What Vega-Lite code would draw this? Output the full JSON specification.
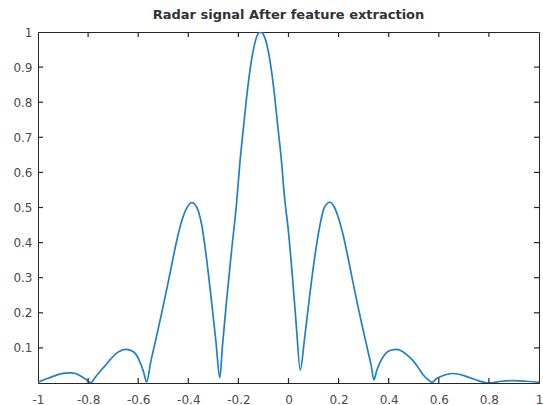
{
  "$schema": "https://vega.github.io/schema/vega-lite/v6.json",
  "width": 501,
  "height": 351,
  "autosize": {"type": "none"},
  "padding": {"left": 38, "top": 32, "right": 4, "bottom": 22},
  "background": "white",
  "title": {"text": "Radar signal After feature extraction", "font": "DejaVu Sans", "fontSize": 13, "fontWeight": "bold", "color": "#333333", "anchor": "middle", "offset": 4},
  "config": {
    "view": {"stroke": "#262626", "strokeWidth": 1},
    "axisX": {"labelPadding": 11, "tickCount": 10, "labelExpr": "'' + datum.value"},
    "axisY": {"labelPadding": 6, "tickCount": 10, "labelExpr": "datum.value == 0 ? '' : '' + datum.value"},
    "axis": {
      "grid": false,
      "domainColor": "#262626",
      "domainWidth": 1,
      "ticks": false,
      "labelOverlap": false,
      "labelFlush": false,
      "labelFont": "DejaVu Sans",
      "labelFontSize": 12,
      "labelColor": "#4a4a4a",
      "title": null
    }
  },
  "datasets": {
    "curve": [
      {"x": -1.0, "y": 0.002}, {"x": -0.98, "y": 0.008}, {"x": -0.95, "y": 0.016}, {"x": -0.92, "y": 0.024},
      {"x": -0.89, "y": 0.028}, {"x": -0.87, "y": 0.029}, {"x": -0.85, "y": 0.027}, {"x": -0.83, "y": 0.02},
      {"x": -0.81, "y": 0.011}, {"x": -0.79, "y": 0.001}, {"x": -0.77, "y": 0.018}, {"x": -0.75, "y": 0.035},
      {"x": -0.73, "y": 0.051}, {"x": -0.71, "y": 0.068}, {"x": -0.69, "y": 0.083}, {"x": -0.67, "y": 0.092},
      {"x": -0.65, "y": 0.096}, {"x": -0.63, "y": 0.093}, {"x": -0.61, "y": 0.083}, {"x": -0.59, "y": 0.055},
      {"x": -0.578, "y": 0.03}, {"x": -0.566, "y": 0.003}, {"x": -0.55, "y": 0.06}, {"x": -0.53, "y": 0.123},
      {"x": -0.51, "y": 0.187}, {"x": -0.49, "y": 0.254}, {"x": -0.47, "y": 0.323}, {"x": -0.45, "y": 0.393},
      {"x": -0.43, "y": 0.452}, {"x": -0.41, "y": 0.493}, {"x": -0.395, "y": 0.51}, {"x": -0.386, "y": 0.514},
      {"x": -0.375, "y": 0.51}, {"x": -0.36, "y": 0.49}, {"x": -0.345, "y": 0.445}, {"x": -0.33, "y": 0.37},
      {"x": -0.31, "y": 0.25}, {"x": -0.29, "y": 0.12}, {"x": -0.274, "y": 0.015}, {"x": -0.264, "y": 0.103},
      {"x": -0.247, "y": 0.236}, {"x": -0.227, "y": 0.379}, {"x": -0.207, "y": 0.515}, {"x": -0.194, "y": 0.628},
      {"x": -0.18, "y": 0.726}, {"x": -0.167, "y": 0.815}, {"x": -0.154, "y": 0.89}, {"x": -0.14, "y": 0.95},
      {"x": -0.125, "y": 0.99}, {"x": -0.112, "y": 1.0}, {"x": -0.098, "y": 0.99}, {"x": -0.082, "y": 0.95},
      {"x": -0.068, "y": 0.89}, {"x": -0.055, "y": 0.815}, {"x": -0.042, "y": 0.726}, {"x": -0.029, "y": 0.64},
      {"x": -0.016, "y": 0.53}, {"x": 0.0, "y": 0.43}, {"x": 0.016, "y": 0.3}, {"x": 0.031, "y": 0.165},
      {"x": 0.047, "y": 0.037}, {"x": 0.063, "y": 0.12}, {"x": 0.083, "y": 0.24}, {"x": 0.103, "y": 0.35},
      {"x": 0.123, "y": 0.44}, {"x": 0.143, "y": 0.5}, {"x": 0.165, "y": 0.515}, {"x": 0.18, "y": 0.505},
      {"x": 0.197, "y": 0.476}, {"x": 0.217, "y": 0.425}, {"x": 0.237, "y": 0.359}, {"x": 0.257, "y": 0.288},
      {"x": 0.277, "y": 0.219}, {"x": 0.297, "y": 0.154}, {"x": 0.317, "y": 0.091}, {"x": 0.33, "y": 0.05},
      {"x": 0.341, "y": 0.009}, {"x": 0.352, "y": 0.035}, {"x": 0.365, "y": 0.058}, {"x": 0.385, "y": 0.082},
      {"x": 0.41, "y": 0.094}, {"x": 0.432, "y": 0.096}, {"x": 0.455, "y": 0.09}, {"x": 0.475, "y": 0.079},
      {"x": 0.498, "y": 0.063}, {"x": 0.52, "y": 0.042}, {"x": 0.538, "y": 0.023}, {"x": 0.56, "y": 0.008},
      {"x": 0.574, "y": 0.002}, {"x": 0.59, "y": 0.012}, {"x": 0.61, "y": 0.019}, {"x": 0.635, "y": 0.025},
      {"x": 0.658, "y": 0.027}, {"x": 0.68, "y": 0.025}, {"x": 0.72, "y": 0.016}, {"x": 0.76, "y": 0.006},
      {"x": 0.8, "y": 0.0}, {"x": 0.85, "y": 0.005}, {"x": 0.9, "y": 0.007}, {"x": 0.95, "y": 0.005},
      {"x": 1.0, "y": 0.002}
    ],
    "xticks": [{"v": -0.8}, {"v": -0.6}, {"v": -0.4}, {"v": -0.2}, {"v": 0}, {"v": 0.2}, {"v": 0.4}, {"v": 0.6}, {"v": 0.8}],
    "yticks": [{"v": 0.1}, {"v": 0.2}, {"v": 0.3}, {"v": 0.4}, {"v": 0.5}, {"v": 0.6}, {"v": 0.7}, {"v": 0.8}, {"v": 0.9}]
  },
  "layer": [
    {
      "data": {"name": "curve"},
      "mark": {"type": "line", "color": "#1f80c8", "strokeWidth": 1.7, "interpolate": "monotone", "clip": true},
      "encoding": {
        "x": {"field": "x", "type": "quantitative", "scale": {"domain": [-1, 1], "nice": false}},
        "y": {"field": "y", "type": "quantitative", "scale": {"domain": [0, 1], "nice": false}}
      }
    },
    {
      "data": {"name": "xticks"},
      "mark": {"type": "rule", "color": "#262626", "strokeWidth": 1.2},
      "encoding": {"x": {"field": "v", "type": "quantitative"}, "y": {"datum": 0}, "y2": {"datum": 0.014}}
    },
    {
      "data": {"name": "xticks"},
      "mark": {"type": "rule", "color": "#262626", "strokeWidth": 1.2},
      "encoding": {"x": {"field": "v", "type": "quantitative"}, "y": {"datum": 1}, "y2": {"datum": 0.986}}
    },
    {
      "data": {"name": "yticks"},
      "mark": {"type": "rule", "color": "#262626", "strokeWidth": 1.2},
      "encoding": {"y": {"field": "v", "type": "quantitative"}, "x": {"datum": -1}, "x2": {"datum": -0.98}}
    },
    {
      "data": {"name": "yticks"},
      "mark": {"type": "rule", "color": "#262626", "strokeWidth": 1.2},
      "encoding": {"y": {"field": "v", "type": "quantitative"}, "x": {"datum": 1}, "x2": {"datum": 0.98}}
    }
  ]
}
